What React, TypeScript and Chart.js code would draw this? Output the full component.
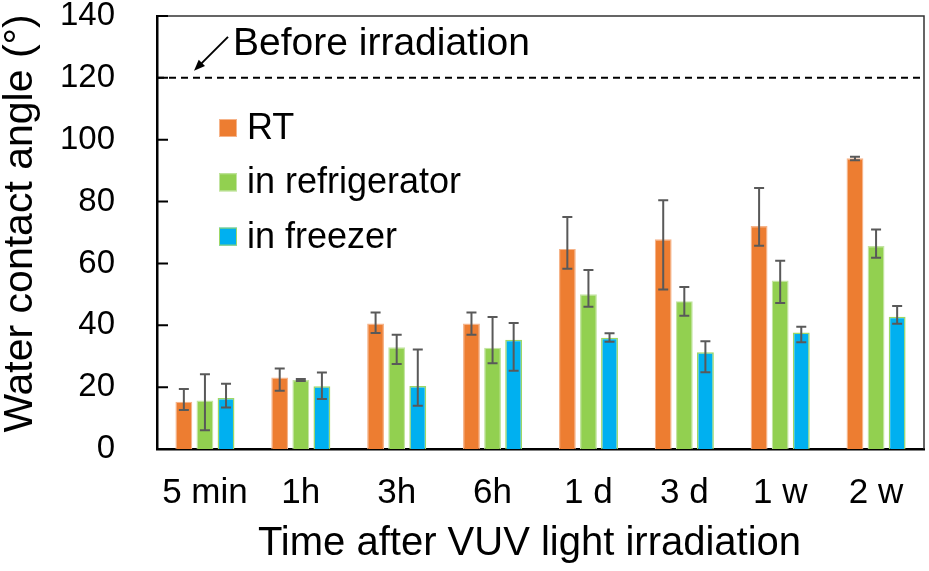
import React, { useEffect, useRef } from "react";
import { Chart, registerables } from "chart.js";

Chart.register(...registerables);

const FONT = '"Liberation Sans", Arial, sans-serif';

// ---- data ----
const categories = ["5 min", "1h", "3h", "6h", "1 d", "3 d", "1 w", "2 w"];
const seriesLabels = ["RT", "in refrigerator", "in freezer"];

const rtValues = [15.3, 23.1, 40.6, 40.6, 64.7, 67.8, 72.1, 94.0];
const rtErrPlus = [4.1, 2.9, 3.5, 3.5, 10.3, 12.6, 12.3, 0.5];
const rtErrMinus = [2.7, 4.3, 3.1, 3.7, 6.4, 16.2, 6.4, 0.6];

const fridgeValues = [15.7, 22.3, 32.9, 32.7, 50.0, 47.8, 54.5, 65.6];
const fridgeErrPlus = [8.5, 0.3, 4.0, 10.0, 7.9, 4.6, 6.4, 5.4];
const fridgeErrMinus = [9.6, 0.3, 5.4, 5.0, 4.0, 4.7, 7.3, 3.8];

const freezerValues = [16.5, 20.3, 20.4, 35.3, 36.0, 31.3, 37.7, 42.8];
const freezerErrPlus = [4.6, 4.4, 11.8, 5.4, 1.4, 3.5, 1.8, 3.4];
const freezerErrMinus = [3.1, 4.1, 6.4, 10.0, 1.3, 6.5, 3.2, 2.3];

const beforeIrradiationValue = 120;
const beforeIrradiationLabel = "Before irradiation";

const yMin = 0;
const yMax = 140;
const yStep = 20;

const xTitle = "Time after VUV light irradiation";
const yTitle = "Water contact angle (°)";

// ---- plugins ----
const decorPlugin = {
  id: "decor",
  afterDatasetsDraw(chart: any) {
    const { ctx, chartArea: a, scales } = chart;
    const y = scales.y;

    // error bars
    chart.data.datasets.forEach((ds: any, i: number) => {
      const meta = chart.getDatasetMeta(i);
      meta.data.forEach((bar: any, j: number) => {
        const v = ds.data[j];
        const yt = y.getPixelForValue(v + ds.errPlus[j]);
        const yb = y.getPixelForValue(v - ds.errMinus[j]);
        ctx.save();
        ctx.strokeStyle = "#595959";
        ctx.lineWidth = 2;
        ctx.beginPath();
        ctx.moveTo(bar.x, yt);
        ctx.lineTo(bar.x, yb);
        ctx.moveTo(bar.x - 5, yt);
        ctx.lineTo(bar.x + 5, yt);
        ctx.moveTo(bar.x - 5, yb);
        ctx.lineTo(bar.x + 5, yb);
        ctx.stroke();
        ctx.restore();
      });
    });

    // dashed "before irradiation" line
    const yb = y.getPixelForValue(beforeIrradiationValue);
    ctx.save();
    ctx.strokeStyle = "#000";
    ctx.lineWidth = 2;
    ctx.setLineDash([7, 5]);
    ctx.beginPath();
    ctx.moveTo(a.left, yb);
    ctx.lineTo(a.right, yb);
    ctx.stroke();
    ctx.restore();

    // arrow + annotation text
    const tipX = a.left + 37;
    const tipY = yb - 7;
    const tailX = a.left + 71;
    const tailY = yb - 41;
    ctx.save();
    ctx.strokeStyle = "#000";
    ctx.fillStyle = "#000";
    ctx.lineWidth = 2;
    ctx.beginPath();
    ctx.moveTo(tailX, tailY);
    ctx.lineTo(tipX + 4, tipY - 4);
    ctx.stroke();
    const ang = Math.atan2(tipY - tailY, tipX - tailX);
    const hl = 12;
    const hw = 0.38;
    ctx.beginPath();
    ctx.moveTo(tipX, tipY);
    ctx.lineTo(tipX - hl * Math.cos(ang - hw), tipY - hl * Math.sin(ang - hw));
    ctx.lineTo(tipX - hl * Math.cos(ang + hw), tipY - hl * Math.sin(ang + hw));
    ctx.closePath();
    ctx.fill();
    ctx.font = `39px ${FONT}`;
    ctx.textAlign = "left";
    ctx.textBaseline = "alphabetic";
    ctx.fillText(beforeIrradiationLabel, a.left + 76, yb - 23);
    ctx.restore();

    // legend inside plot
    ctx.save();
    chart.data.datasets.forEach((ds: any, i: number) => {
      const cy = a.top + 112 + i * 54.3;
      const bx = a.left + 62;
      ctx.fillStyle = ds.backgroundColor;
      ctx.fillRect(bx, cy - 9, 18, 18);
      ctx.strokeStyle = ds.borderColor;
      ctx.lineWidth = 1;
      ctx.strokeRect(bx + 0.5, cy - 8.5, 17, 17);
      ctx.fillStyle = "#000";
      ctx.font = `36px ${FONT}`;
      ctx.textAlign = "left";
      ctx.textBaseline = "middle";
      ctx.fillText(ds.label, bx + 28, cy + 1);
    });
    ctx.restore();
  },
  afterDraw(chart: any) {
    const { ctx, chartArea: a, scales } = chart;
    const y = scales.y;
    ctx.save();
    // top and right frame
    ctx.strokeStyle = "#333";
    ctx.lineWidth = 1.5;
    ctx.beginPath();
    ctx.moveTo(a.left, a.top);
    ctx.lineTo(a.right, a.top);
    ctx.lineTo(a.right, a.bottom);
    ctx.stroke();
    // inward y ticks
    ctx.strokeStyle = "#000";
    ctx.lineWidth = 2;
    ctx.beginPath();
    y.ticks.forEach((t: any) => {
      const py = y.getPixelForValue(t.value);
      ctx.moveTo(a.left, py);
      ctx.lineTo(a.left + 11, py);
    });
    ctx.stroke();

    // axis titles
    ctx.fillStyle = "#000";
    ctx.textAlign = "center";
    ctx.textBaseline = "middle";
    ctx.font = `40px ${FONT}`;
    ctx.fillText(xTitle, (a.left + a.right) / 2 - 11, chart.height - 27);
    ctx.translate(21, (a.top + a.bottom) / 2 - 9);
    ctx.rotate(-Math.PI / 2);
    ctx.font = `41px ${FONT}`;
    ctx.fillText(yTitle, 0, 0);
    ctx.restore();
  },
};

export default function App() {
  const canvasRef = useRef<HTMLCanvasElement | null>(null);

  useEffect(() => {
    document.body.style.margin = "0";
    const canvas = canvasRef.current;
    if (!canvas) return;
    const chart = new Chart(canvas, {
      type: "bar",
      data: {
        labels: categories,
        datasets: [
          {
            label: seriesLabels[0],
            data: rtValues,
            errPlus: rtErrPlus,
            errMinus: rtErrMinus,
            backgroundColor: "#ED7D31",
            borderColor: "#F6B48A",
            borderWidth: 1.2,
          } as any,
          {
            label: seriesLabels[1],
            data: fridgeValues,
            errPlus: fridgeErrPlus,
            errMinus: fridgeErrMinus,
            backgroundColor: "#92D050",
            borderColor: "#C3E4A2",
            borderWidth: 1.2,
          } as any,
          {
            label: seriesLabels[2],
            data: freezerValues,
            errPlus: freezerErrPlus,
            errMinus: freezerErrMinus,
            backgroundColor: "#00B0F0",
            borderColor: "#9ED766",
            borderWidth: 1.5,
          } as any,
        ],
      },
      options: {
        responsive: true,
        maintainAspectRatio: false,
        animation: false,
        layout: { padding: { left: 0, right: 5, top: 16, bottom: 0 } },
        datasets: {
          bar: { categoryPercentage: 0.66, barPercentage: 0.8 },
        },
        plugins: {
          legend: { display: false },
          tooltip: { enabled: false },
          title: { display: false },
        },
        scales: {
          x: {
            grid: { display: false, drawTicks: false },
            border: { display: true, color: "#000", width: 2.5 },
            ticks: {
              color: "#000",
              font: { family: FONT, size: 35 },
              padding: 23,
              maxRotation: 0,
              autoSkip: false,
            },
            title: { display: false },
            afterFit: (scale: any) => {
              scale.height = 122;
              scale.paddingLeft = 0;
              scale.paddingRight = 0;
            },
          },
          y: {
            min: yMin,
            max: yMax,
            grid: { display: false, drawTicks: false },
            border: { display: true, color: "#000", width: 2.5 },
            ticks: {
              stepSize: yStep,
              color: "#000",
              font: { family: FONT, size: 33 },
              padding: 42,
            },
            title: { display: false },
            afterFit: (scale: any) => {
              scale.width = 157;
              scale.paddingTop = 0;
              scale.paddingBottom = 0;
            },
          },
        },
      } as any,
      plugins: [decorPlugin],
    });
    return () => chart.destroy();
  }, []);

  return (
    <div style={{ position: "absolute", left: 0, top: 0, width: 929, height: 571 }}>
      <canvas ref={canvasRef} />
    </div>
  );
}
